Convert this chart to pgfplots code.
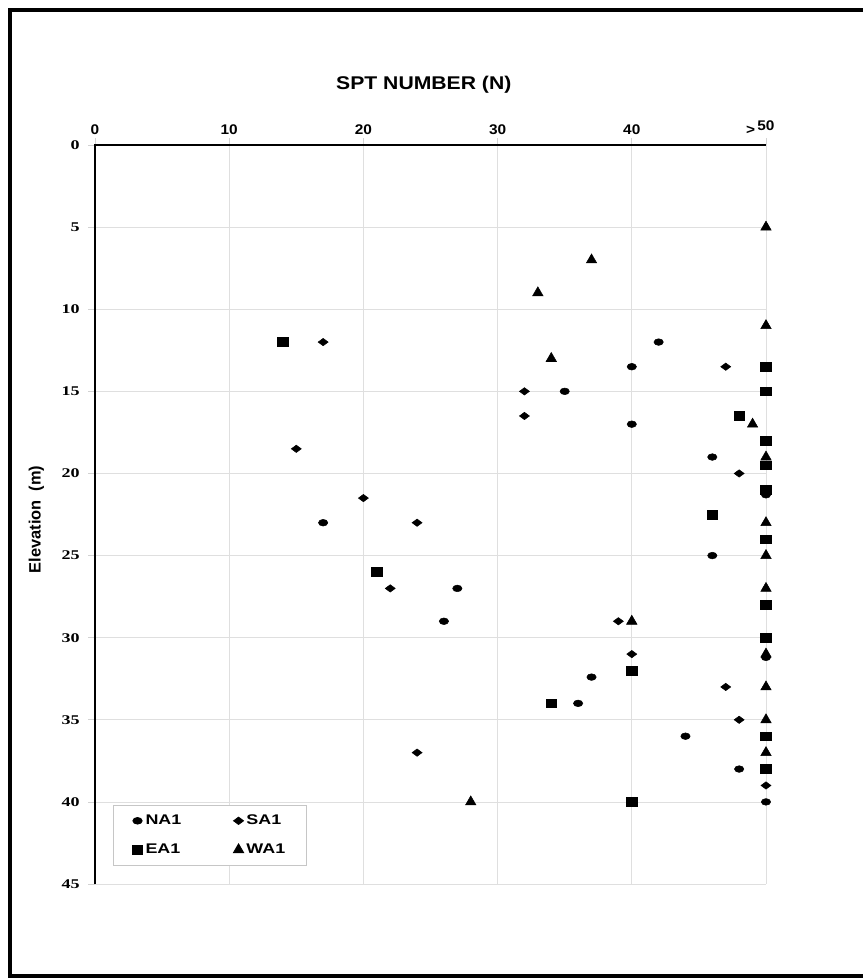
\documentclass[border=0pt]{standalone}
\usepackage{fontspec}
\setmainfont{Liberation Sans}
\newfontfamily\titlefont[FakeStretch=1.15]{Liberation Sans}
\newfontfamily\tickfont[FakeStretch=1.1]{Liberation Sans}
\newfontfamily\legfont[FakeStretch=1.28]{Liberation Sans}
\newfontfamily\wideserif[FakeStretch=1.35]{Liberation Serif}
\usepackage{pgfplots}
\usepackage{pgfplotstable}
\pgfplotsset{compat=1.18}

\pgfplotstableread{
N E
42 12
40 13.5
35 15
40 17
46 19
50 21.3
17 23
46 25
27 27
26 29
50 31.2
37 32.4
36 34
44 36
48 38
50 40
}\dataNA

\pgfplotstableread{
N E
17 12
47 13.5
32 15
32 16.5
15 18.5
48 20
20 21.5
24 23
22 27
39 29
40 31
47 33
48 35
24 37
50 39
}\dataSA

\pgfplotstableread{
N E
14 12
50 13.5
50 15
48 16.5
50 18
50 19.5
50 21
46 22.5
50 24
21 26
50 28
50 30
40 32
34 34
50 36
50 38
40 40
}\dataEA

\pgfplotstableread{
N E
50 5
37 7
33 9
50 11
34 13
49 17
50 19
50 23
50 25
50 27
40 29
50 31
50 33
50 35
50 37
28 40
}\dataWA

\begin{document}
\begin{tikzpicture}
\begin{axis}[
  at={(0,0)}, anchor=north west,
  width=503.25pt, height=554.25pt, scale only axis,
  xmin=0, xmax=50, ymin=0, ymax=45, y dir=reverse,
  xtick={0,10,20,30,40,50},
  ytick={0,5,10,15,20,25,30,35,40,45},
  xticklabels={0,10,20,30,40,{\llap{\raisebox{-3pt}{>}\,}50}},
  yticklabels={0,5,10,15,20,25,30,35,40,45},
  axis line style={draw=none},
  xtick pos=right, xticklabel pos=right,
  ytick pos=left, yticklabel pos=left,
  tick align=outside, major tick length=5pt,
  tick style={gray!35, line width=0.6pt},
  grid=major, major grid style={gray!25, line width=0.6pt},
  xticklabel style={font=\tickfont\bfseries\fontsize{10.5}{12}\selectfont, yshift=-1pt},
  yticklabel style={font=\wideserif\bfseries\fontsize{10}{12}\selectfont, xshift=-3pt},
  clip=false,
  legend columns=2,
  legend style={at={(axis cs:1.35,40.2)}, anchor=north west,
    draw=gray!45, line width=0.6pt, font=\legfont\bfseries\fontsize{10.5}{13}\selectfont,
    inner xsep=14pt, inner ysep=5pt, row sep=9pt,
    /tikz/every even column/.append style={column sep=37pt},
    /tikz/every odd column/.append style={column sep=0pt}},
  legend cell align=left,
  legend image code/.code={\draw[#1] plot coordinates {(0.1cm,0cm)};},
]
\draw[line width=1.3pt] (axis cs:0,45) -- (axis cs:0,0) -- (axis cs:50,0);
\addplot[only marks, mark=*, mark size=3pt, black, mark options={xscale=1.17, yscale=0.83}] table[x=N,y=E] {\dataNA};
\addlegendentry{NA1}
\addplot[only marks, mark=diamond*, mark size=5pt, black, mark options={yscale=0.55}] table[x=N,y=E] {\dataSA};
\addlegendentry{SA1}
\addplot[only marks, mark=square*, mark size=4pt, black, mark options={yscale=0.82}] table[x=N,y=E] {\dataEA};
\addlegendentry{EA1}
\addplot[only marks, mark=triangle*, mark size=4.5pt, black] table[x=N,y=E] {\dataWA};
\addlegendentry{WA1}
\node[font=\titlefont\bfseries\fontsize{13.8}{15}\selectfont] at ([yshift=45pt]axis cs:24.5,0) {SPT NUMBER (N)};
\node[rotate=90, font=\bfseries\fontsize{12.3}{13}\selectfont] at ([xshift=-44pt]axis cs:0,22.8) {Elevation\ \ (m)};
\end{axis}
\draw[line width=2.5pt] (-63.75pt,101.25pt) rectangle (581.25pt,-623.25pt);
\pgfresetboundingbox
\path (-71.25pt,108.75pt) rectangle (576pt,-625.5pt);
\end{tikzpicture}
\end{document}
